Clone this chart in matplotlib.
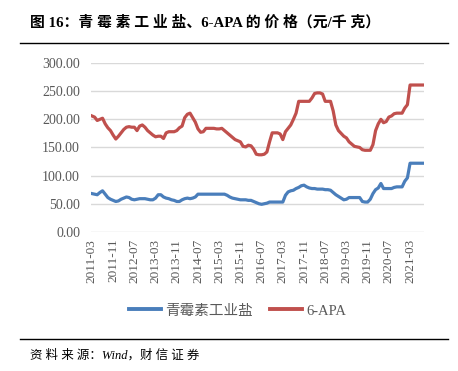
import matplotlib
matplotlib.use("Agg")
from matplotlib import pyplot as plt
from matplotlib.lines import Line2D

plt.rcParams['font.family'] = ['Liberation Serif', 'Noto Sans CJK SC', 'DejaVu Sans']

# monthly prices, 2011-03 .. 2021-08 (yuan/kg)
salt = [68, 67, 66, 70, 73, 67, 61, 58, 56, 54,
        55, 58, 60, 62, 61, 58, 57, 58, 59, 59,
        59, 58, 57, 57, 60, 66, 66, 62, 60, 59,
        57, 56, 54, 54, 57, 59, 60, 59, 60, 62,
        67, 67, 67, 67, 67, 67, 67, 67, 67, 67,
        67, 65, 62, 60, 59, 58, 57, 57, 57, 56,
        56, 54, 52, 50, 49, 50, 51, 53, 53, 53,
        53, 53, 53, 65, 71, 73, 74, 77, 79, 82,
        83, 80, 78, 77, 77, 76, 76, 76, 75, 75,
        74, 70, 66, 63, 60, 57, 58, 61, 61, 61,
        61, 61, 54, 53, 53, 58, 68, 75, 78, 86,
        77, 77, 77, 77, 79, 80, 80, 80, 90, 96,
        122, 122, 122, 122, 122, 122]
apa = [206, 204, 198, 200, 202, 192, 185, 180, 172, 165,
       170, 176, 182, 186, 187, 186, 186, 180, 188, 190,
       186, 180, 176, 172, 169, 170, 170, 166, 176, 178,
       178, 178, 180, 185, 188, 203, 209, 211, 203, 195,
       183, 177, 178, 184, 184, 184, 184, 183, 183, 184,
       180, 176, 172, 168, 164, 162, 160, 152, 151, 154,
       153, 147, 138, 137, 137, 138, 142, 160, 176, 176,
       176, 174, 164, 178, 184, 190, 200, 211, 232, 232,
       232, 232, 232, 238, 246, 247, 247, 245, 232, 232,
       232, 215, 190, 180, 175, 170, 167, 160, 156, 152,
       151, 150, 146, 145, 145, 145, 155, 180, 192, 200,
       194, 196, 204, 206, 210, 211, 211, 211, 220, 226,
       261, 261, 261, 261, 261, 261]
tick_labels = ['2011-03', '2011-11', '2012-07', '2013-03', '2013-11', '2014-07',
               '2015-03', '2015-11', '2016-07', '2017-03', '2017-11', '2018-07',
               '2019-03', '2019-11', '2020-07', '2021-03']
names = ['青霉素工业盐', '6-APA']

blue = '#4a7ebb'
red = '#c0504d'
grey = '#595959'

fig = plt.figure(figsize=(4.58, 3.71), dpi=100)
ax = fig.add_axes([0.199, 0.375, 0.727, 0.455])

x = list(range(len(apa)))
ax.plot(x, salt, color=blue, lw=2.3, solid_joinstyle='round')
ax.plot(x, apa, color=red, lw=2.3, solid_joinstyle='round')

ax.set_ylim(0, 300)
ax.set_xlim(-0.3, len(apa) - 0.7)
ax.set_yticks(range(0, 301, 50))
ax.set_yticklabels([f"{v:.2f}" for v in range(0, 301, 50)])
ax.set_xticks(range(0, 8 * len(tick_labels), 8))
ax.set_xticklabels(tick_labels, rotation=90)
ax.tick_params(length=0, colors=grey)
ax.tick_params(axis='y', pad=8, labelsize=10)
ax.tick_params(axis='x', pad=5, labelsize=9.5)
ax.grid(axis='y', color='#d9d9d9', lw=1)
ax.set_axisbelow(True)
for s in ax.spines.values():
    s.set_visible(False)

handles = [Line2D([], [], color=blue, lw=2.8), Line2D([], [], color=red, lw=2.8)]
leg = fig.legend(handles, names, loc='center', bbox_to_anchor=(0.519, 0.162), ncol=2,
                 frameon=False, handlelength=2.2, columnspacing=1.2, handletextpad=0.3,
                 fontsize=10.5)
for t in leg.get_texts():
    t.set_color(grey)

fig.text(0.065, 0.94, '图 16：青 霉 素 工 业 盐、6-APA 的 价 格（元/千 克）', fontsize=10.7,
         fontweight='bold', va='center', ha='left')
fig.add_artist(Line2D([0.044, 0.978], [0.884, 0.884], color='black', lw=1))
fig.add_artist(Line2D([0.044, 0.978], [0.086, 0.086], color='black', lw=1))
fig.text(0.065, 0.043, '资 料 来 源：Wind，财 信 证 券', fontsize=9, style='italic',
         va='center', ha='left')

fig.savefig('out.png', dpi=100)
